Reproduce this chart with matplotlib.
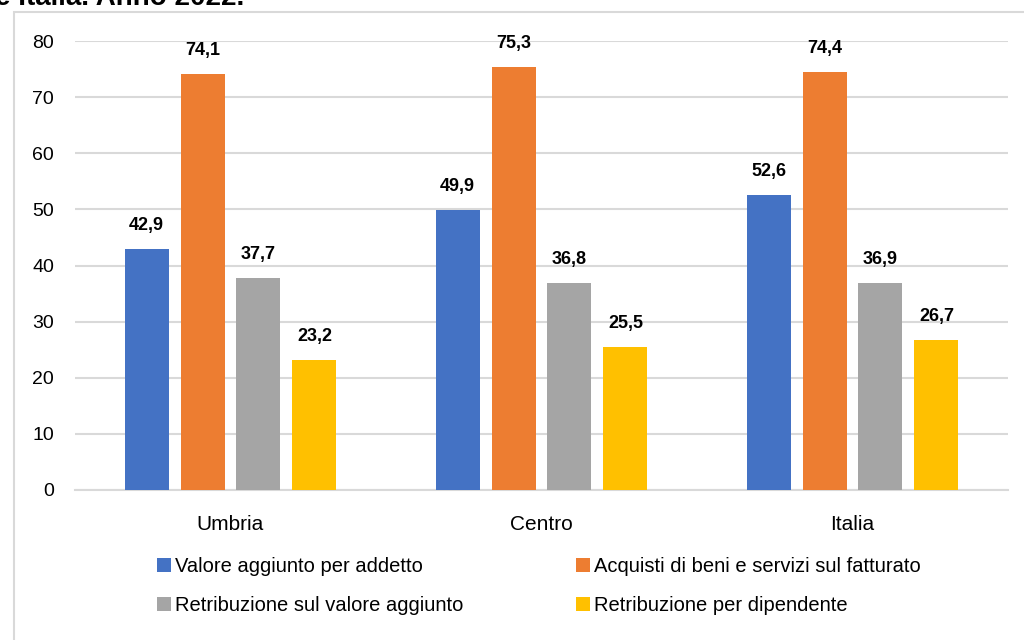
import matplotlib
matplotlib.use("Agg")
import matplotlib.pyplot as plt
import numpy as np
from matplotlib.patches import Rectangle

plt.rcParams['font.family'] = ['Liberation Sans', 'DejaVu Sans']

categories = ["Umbria", "Centro", "Italia"]
series_names = ["Valore aggiunto per addetto",
                "Acquisti di beni e servizi sul fatturato",
                "Retribuzione sul valore aggiunto",
                "Retribuzione per dipendente"]
valore_aggiunto = [42.9, 49.9, 52.6]
acquisti = [74.1, 75.3, 74.4]
retrib_va = [37.7, 36.8, 36.9]
retrib_dip = [23.2, 25.5, 26.7]
yticks = [0, 10, 20, 30, 40, 50, 60, 70, 80]
title_text = "e Italia. Anno 2022."

colors = ["#4472C4", "#ED7D31", "#A5A5A5", "#FFC000"]
series = [valore_aggiunto, acquisti, retrib_va, retrib_dip]

fig = plt.figure(figsize=(10.24, 6.4), dpi=100)
fig.patch.set_facecolor("white")
# chart frame
fig.patches.append(Rectangle((14/1024, -0.05), 1.1, 1 - 12/640 + 0.05,
                             transform=fig.transFigure, fill=False,
                             edgecolor="#D9D9D9", linewidth=1.5, zorder=0))
fig.text(-0.005, 1 - 5/640, title_text, fontsize=20, fontweight="bold",
         va="baseline", ha="left")

ax = fig.add_axes([75/1024, 1 - 490/640, (1008 - 75)/1024, (490 - 41)/640])
x = np.arange(len(categories))
width = 0.1415
pitch = 0.18
for i, (vals, col, name) in enumerate(zip(series, colors, series_names)):
    pos = x + (i - 1.5) * pitch
    bars = ax.bar(pos, vals, width, color=col, label=name, zorder=3)
    for b, v in zip(bars, vals):
        ax.annotate(f"{v:.1f}".replace(".", ","),
                    (b.get_x() + b.get_width() / 2, v),
                    xytext=(0, 17), textcoords="offset points",
                    ha="center", va="center", fontsize=13, fontweight="bold",
                    color="#000000")

ax.set_xlim(-0.5, 2.5)
ax.set_ylim(0, 80)
ax.set_yticks(yticks)
ax.set_xticks(x)
ax.set_xticklabels(categories, fontsize=15)
ax.yaxis.grid(True, color="#D9D9D9", linewidth=1.5, zorder=0)
ax.set_axisbelow(True)
for s in ["top", "right", "left"]:
    ax.spines[s].set_visible(False)
ax.spines["bottom"].set_color("#D9D9D9")
ax.spines["bottom"].set_linewidth(1.5)
ax.tick_params(axis="both", length=0, colors="#000000")
ax.tick_params(axis="y", labelsize=14, pad=15)
ax.tick_params(axis="x", pad=18)

handles, labels = ax.get_legend_handles_labels()
order = [0, 2, 1, 3]
leg = fig.legend([handles[i] for i in order], [labels[i] for i in order],
                 loc="center left", ncol=2,
                 bbox_to_anchor=(157/1024, 1 - 586/640),
                 frameon=False, fontsize=14.5, handlelength=0.7,
                 handleheight=0.7, handletextpad=0.2, columnspacing=5.6,
                 labelspacing=1.0, borderpad=0, borderaxespad=0)

fig.savefig("out.png", dpi=100)
